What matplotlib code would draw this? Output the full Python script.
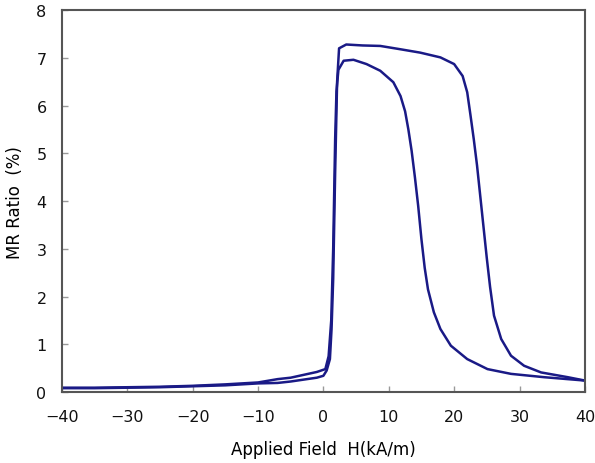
import numpy as np
import matplotlib
matplotlib.use("Agg")
import matplotlib.pyplot as plt

# sweep from -40 to +40 kA/m (outer loop, plateau ~7.25 %)
h_up = [-40, -35, -30, -25, -20, -15, -10, -7, -5, -3, -1, 0, 0.5, 1.0, 1.25, 1.5,
        1.8, 2.1, 2.4, 3.5, 6, 8.7, 11.8, 14.8, 17.9, 20.0, 21.3, 22.0, 22.5, 23.0,
        23.5, 24.0, 24.5, 25.0, 25.5, 26.1, 27.2, 28.7, 30.7, 33.3, 37.4, 40]
mr_up = [0.08, 0.08, 0.09, 0.10, 0.12, 0.14, 0.18, 0.19, 0.22, 0.26, 0.30, 0.34, 0.45, 0.69, 1.32, 2.37,
         4.6, 6.5, 7.2, 7.28, 7.26, 7.25, 7.18, 7.11, 7.01, 6.87, 6.62, 6.28, 5.8, 5.3,
         4.75, 4.1, 3.45, 2.8, 2.2, 1.6, 1.11, 0.76, 0.55, 0.41, 0.31, 0.24]

# sweep from +40 back to -40 kA/m (inner loop, peak ~6.95 %)
h_down = [40, 33.8, 28.7, 25.1, 22.0, 19.5, 17.9, 16.9, 16.0, 15.5, 15.0, 14.5, 14.0, 13.5,
          13.0, 12.5, 11.8, 10.7, 8.7, 6.6, 4.6, 3.1, 2.3, 2.0, 1.8, 1.5, 1.2, 0.8, 0.3,
          -1, -3, -5, -7, -10, -15, -20, -25, -30, -35, -40]
mr_down = [0.24, 0.31, 0.38, 0.48, 0.69, 0.97, 1.32, 1.67, 2.15, 2.6, 3.2, 3.9, 4.5, 5.05,
           5.5, 5.88, 6.2, 6.49, 6.73, 6.87, 6.96, 6.94, 6.75, 6.3, 5.3, 3.0, 1.5, 0.75, 0.48,
           0.42, 0.36, 0.30, 0.27, 0.2, 0.16, 0.13, 0.11, 0.10, 0.09, 0.09]

line_color = "#1a1a86"

plt.rcParams['font.family'] = ['DejaVu Sans']
fig = plt.figure(figsize=(5.95, 4.64), dpi=100)
ax = fig.add_axes([0.104, 0.153, 0.879, 0.823])

ax.plot(h_up, mr_up, color=line_color, lw=1.8)
ax.plot(h_down, mr_down, color=line_color, lw=1.8)

ax.set_xlim(-40, 40)
ax.set_ylim(0, 8)
ax.set_xticks(np.arange(-40, 41, 10))
ax.set_yticks(np.arange(0, 9, 1))
ax.tick_params(axis='both', direction='in', length=4, width=1, color='#999999',
               labelsize=11.5, labelcolor='#111111')
ax.tick_params(axis='x', pad=12)
ax.tick_params(axis='y', pad=11)
for s in ax.spines.values():
    s.set_color('#555555')
    s.set_linewidth(1.5)

ax.set_xlabel('Applied Field  H(kA/m)', fontsize=12, labelpad=12)
ax.set_ylabel('MR Ratio  (%)', fontsize=12, labelpad=9)

fig.savefig('out.png', dpi=100)
